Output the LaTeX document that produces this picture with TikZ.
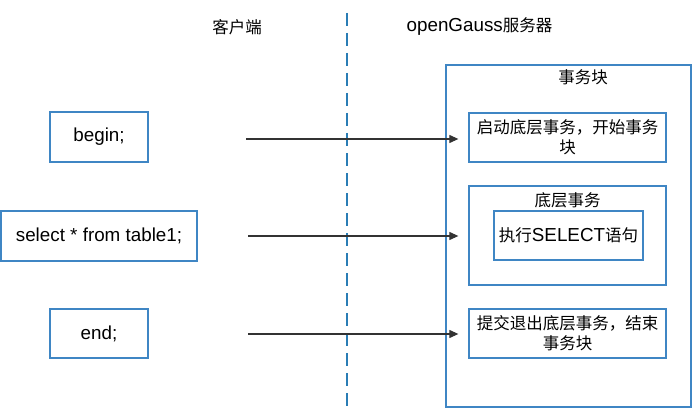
\documentclass[tikz,border=0pt]{standalone}
\usepackage{fontspec}
\setmainfont[Scale=1.14]{Liberation Sans}
\newfontfamily\cjk{Noto Sans CJK SC}
\usetikzlibrary{arrows.meta}
\definecolor{boxblue}{HTML}{3F86C4}
\definecolor{dashblue}{HTML}{2A7DB5}
\definecolor{arrgray}{HTML}{333333}
\tikzset{
  box/.style={draw=boxblue, line width=1.3pt, inner sep=0pt, align=center},
  lbl/.style={inner sep=0pt, align=center},
  arr/.style={draw=arrgray, line width=1.1pt, -{Triangle[length=9pt,width=8pt]}},
}
\begin{document}
\begin{tikzpicture}[x=1pt,y=-1pt, font=\fontsize{16.5}{20}\selectfont]
\useasboundingbox (0,0) rectangle (693,409);
% divider
\draw[dashblue, line width=1.2pt, dash pattern=on 13pt off 7pt] (347,13) -- (347,407);
% headers
\node[lbl] (hc) at (237,27) {\cjk 客户端};
\node[lbl] (hs) at (479.5,27) {openGauss{\cjk 服务器}};
% server outer block
\node[box, minimum width=245, minimum height=342] (outer) at (568.5,236) {};
\node[lbl] (ot) at (583,77) {\cjk 事务块};
\node[box, minimum width=197, minimum height=49] (b1) at (567.5,137.5) {\cjk 启动底层事务，开始事务\\\cjk 块};
\node[box, minimum width=197, minimum height=99] (b2) at (567.5,235.5) {};
\node[lbl] (b2t) at (567.5,200) {\cjk 底层事务};
\node[box, minimum width=149, minimum height=49] (b2i) at (568.5,235.5) {{\cjk 执行}SELECT{\cjk 语句}};
\node[box, minimum width=197, minimum height=49] (b3) at (567.5,333.5) {\cjk 提交退出底层事务，结束\\\cjk 事务块};
% client boxes
\node[box, minimum width=98, minimum height=50] (c1) at (99,137) {begin;};
\node[box, minimum width=196, minimum height=50] (c2) at (99,236) {select * from table1;};
\node[box, minimum width=98, minimum height=49] (c3) at (99,333.5) {end;};
% arrows
\coordinate (s1) at (246,139);
\coordinate (s2) at (248,236);
\coordinate (s3) at (248,334);
\draw[arr, shorten >=10pt] (s1) -- (s1 -| b1.west);
\draw[arr, shorten >=10pt] (s2) -- (s2 -| b1.west);
\draw[arr, shorten >=10pt] (s3) -- (s3 -| b3.west);
\end{tikzpicture}
\end{document}
